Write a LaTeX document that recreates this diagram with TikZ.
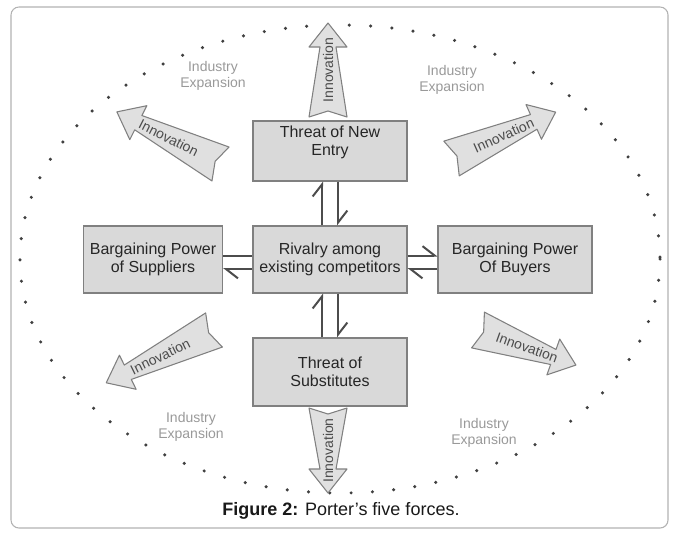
\documentclass[tikz,border=0pt]{standalone}
\usepackage{fontspec}
\setmainfont{Liberation Sans}
\usetikzlibrary{arrows.meta,calc}

\tikzset{
  pics/innov/.style args={#1/#2}{code={
    \draw[innovbody] (0,-19) -- ({#1-24},-8) -- ({#1-24},-19) -- (#1,0)
      -- ({#1-24},19) -- ({#1-24},8) -- (0,19) -- (6,0) -- cycle;
    \node[innovtext, rotate=#2] (-txt) at ({#1/2},0) {Innovation};
  }},
}

\begin{document}
\begin{tikzpicture}[
  x=0.75pt, y=-0.75pt,
  frame/.style={draw=black!30, line width=0.8pt, rounded corners=6pt},
  force/.style={rectangle, draw=black!50, fill=black!15, line width=0.8pt, inner sep=0pt, minimum width=115.5pt},
  forcetext/.style={align=center, text=black!85, font=\fontsize{12}{13.5}\selectfont},
  push/.style={draw=black!70, line width=1.5pt, -{Straight Barb[harpoon, length=9pt, width=14pt]}},
  plain/.style={draw=black!70, line width=1.5pt},
  rim/.style={draw=black!75, line width=2.6pt, line cap=round, dash pattern=on 0pt off 16pt},
  expansion/.style={align=center, text=black!40, font=\fontsize{10.5}{11.5}\selectfont},
  innovbody/.style={draw=black!50, fill=black!12, line width=0.8pt, line join=round},
  innovtext/.style={text=black!70, font=\fontsize{10.5}{12}\selectfont, inner sep=0pt},
]

\useasboundingbox (0,0) rectangle (677,532);
\draw[frame] (11,7) rectangle (668,528);

% === Dotted rim of the industry ===
\draw[rim] (340,259) ellipse [x radius=320, y radius=234];

% === Five forces ===
\node[force, minimum height=45pt] (entry) at (330,151) {};
\node[forcetext] (entrytext) at (330,142) {Threat of New\\Entry};
\node[force, forcetext, minimum height=50.25pt] (rival) at (330,259.5) {Rivalry among\\existing competitors};
\node[force, forcetext, minimum width=104.25pt, minimum height=50.25pt] (sup) at (153,259.5) {Bargaining Power\\of Suppliers};
\node[force, forcetext, minimum height=50.25pt] (buy) at (515,259.5) {Bargaining Power\\Of Buyers};
\node[force, forcetext, minimum height=51pt] (subs) at (330,372) {Threat of\\Substitutes};

% === Pairs of half arrows ===
\draw[push] ($(rival.north)+(-8,0)$) -- ($(entry.south)+(-8,0)$);
\draw[push] ($(entry.south)+(8,0)$) -- ($(rival.north)+(8,0)$);
\draw[push] ($(subs.north)+(-8,0)$) -- ($(rival.south)+(-8,0)$);
\draw[push] ($(rival.south)+(8,0)$) -- ($(subs.north)+(8,0)$);
\draw[plain] ($(sup.east)+(0,-4)$) -- ($(rival.west)+(0,-4)$);
\draw[push] ($(rival.west)+(0,9.5)$) -- ($(sup.east)+(0,9.5)$);
\draw[push] ($(rival.east)+(0,-4)$) -- ($(buy.west)+(0,-4)$);
\draw[push] ($(buy.west)+(0,9.5)$) -- ($(rival.east)+(0,9.5)$);

% === Innovation arrows ===
\pic[rotate=90] (innN) at (328,117) {innov=94/90};
\pic[rotate=-90] (innS) at (328,408) {innov=85/90};
\pic[rotate=153.3] (innNW) at (220.5,164) {innov=116/-26.7};
\pic[rotate=24] (innNE) at (451.5,158.5) {innov=114/24};
\pic[rotate=206.1] (innSW) at (214,330) {innov=120/26.1};
\pic[rotate=-19.7] (innSE) at (478,330) {innov=104/-19.7};

% === Industry expansion ===
\node[expansion] (expNW) at (213,76) {Industry\\Expansion};
\node[expansion] (expNE) at (452,80) {Industry\\Expansion};
\node[expansion] (expSW) at (191,427) {Industry\\Expansion};
\node[expansion] (expSE) at (484,433) {Industry\\Expansion};

\node[font=\fontsize{13.5}{16}\selectfont, text=black!90] (caption) at (341,511) {\textbf{Figure 2:} Porter’s five forces.};

\end{tikzpicture}
\end{document}
